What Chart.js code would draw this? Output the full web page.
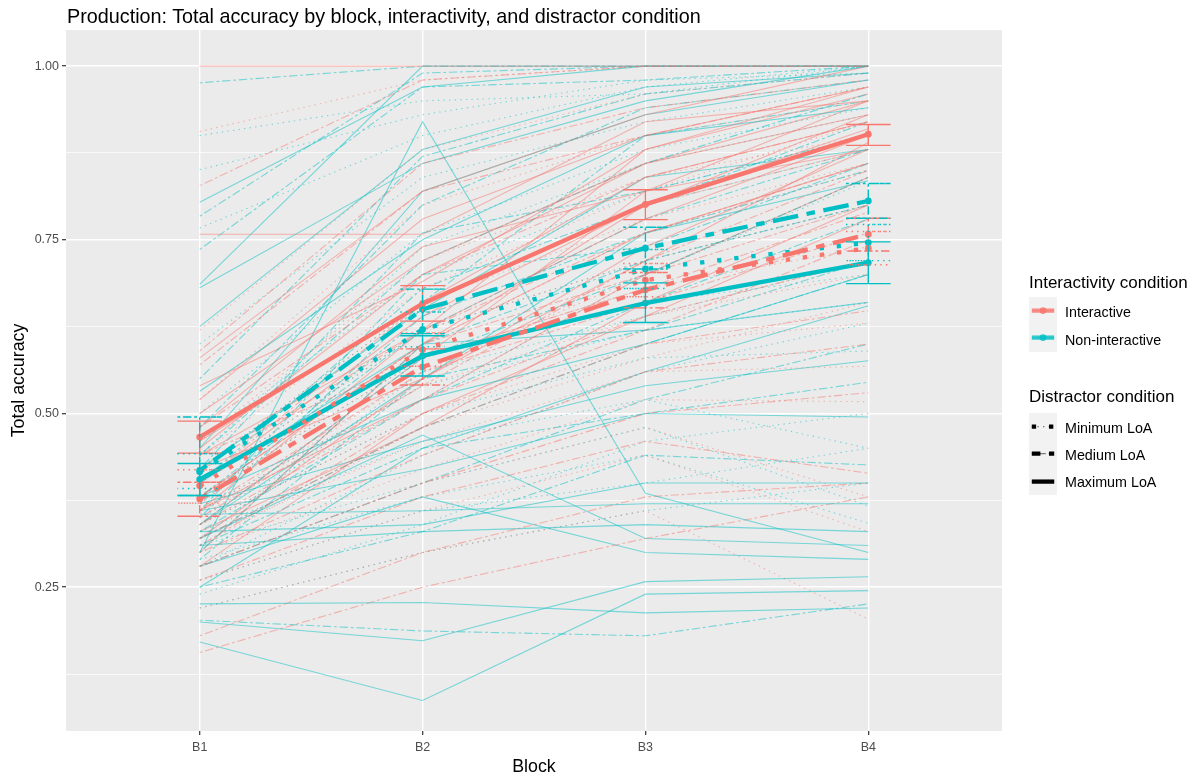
<!DOCTYPE html>
<html>
<head>
<meta charset="utf-8">
<script src="https://cdn.jsdelivr.net/npm/chart.js@4.4.1/dist/chart.umd.min.js"></script>
<style>
  body { margin: 0; background: #fff; }
  #wrap { position: relative; width: 1195px; height: 778px; font-family: "Liberation Sans", Arial, sans-serif; color: #000; }
  #plot { position: absolute; left: 0; top: 0; }
  .txt { position: absolute; white-space: nowrap; }
  .maintitle { left: 67px; top: 5px; font-size: 19.8px; line-height: 22px; }
  .ltitle { left: 1029px; font-size: 17px; line-height: 20px; }
  .llabel { left: 1065px; font-size: 14.3px; line-height: 16px; }
  .keys { position: absolute; left: 1029px; width: 28px; background: #F2F2F2; }
  .keys svg { display: block; }
</style>
</head>
<body>
<div id="wrap">
  <canvas id="plot" width="1195" height="778"></canvas>
  <div class="txt maintitle">Production: Total accuracy by block, interactivity, and distractor condition</div>

  <div class="txt ltitle" style="top:273px">Interactivity condition</div>
  <div class="keys" id="colourKeys" style="top:297px"></div>
  <div class="txt llabel" style="top:304px">Interactive</div>
  <div class="txt llabel" style="top:332px">Non-interactive</div>

  <div class="txt ltitle" style="top:387px">Distractor condition</div>
  <div class="keys" id="typeKeys" style="top:413px"></div>
  <div class="txt llabel" style="top:420px">Minimum LoA</div>
  <div class="txt llabel" style="top:447px">Medium LoA</div>
  <div class="txt llabel" style="top:474px">Maximum LoA</div>
</div>

<script>
const blocks = ['B1', 'B2', 'B3', 'B4'];
const yMajor = [0.25, 0.5, 0.75, 1.0];
const yMinor = [0.125, 0.375, 0.625, 0.875];

// one row per participant: total accuracy in B1..B4
const intMinLines = [
  [0.906, 0.98, 1.00, 1.00], [0.62, 0.88, 0.96, 0.99], [0.52, 0.80, 0.90, 0.95],
  [0.46, 0.72, 0.84, 0.90], [0.42, 0.66, 0.78, 0.86], [0.40, 0.62, 0.72, 0.80],
  [0.38, 0.58, 0.68, 0.74], [0.36, 0.54, 0.64, 0.70], [0.34, 0.50, 0.60, 0.63],
  [0.32, 0.46, 0.56, 0.568], [0.30, 0.42, 0.52, 0.517], [0.28, 0.40, 0.48, 0.38],
  [0.26, 0.36, 0.44, 0.33], [0.22, 0.30, 0.36, 0.204], [0.35, 0.56, 0.70, 0.84],
  [0.44, 0.68, 0.82, 0.92], [0.31, 0.48, 0.58, 0.66], [0.37, 0.60, 0.76, 0.85]
];
const intMedLines = [
  [0.828, 0.98, 1.00, 1.00], [0.59, 0.86, 0.94, 0.98], [0.57, 0.82, 0.90, 0.97],
  [0.48, 0.70, 0.84, 0.92], [0.42, 0.62, 0.76, 0.86], [0.38, 0.60, 0.70, 0.80],
  [0.36, 0.56, 0.66, 0.76], [0.34, 0.52, 0.64, 0.72], [0.32, 0.48, 0.60, 0.648],
  [0.30, 0.44, 0.56, 0.60], [0.28, 0.40, 0.50, 0.53], [0.26, 0.38, 0.46, 0.414],
  [0.18, 0.30, 0.38, 0.40], [0.156, 0.25, 0.32, 0.38], [0.35, 0.54, 0.72, 0.85],
  [0.40, 0.66, 0.80, 0.88], [0.31, 0.50, 0.62, 0.75], [0.44, 0.58, 0.68, 0.79]
];
const intMaxLines = [
  [1.00, 1.00, 1.00, 1.00], [0.758, 0.758, 0.92, 0.95], [0.54, 0.69, 0.88, 0.97],
  [0.58, 0.82, 0.93, 1.00], [0.50, 0.72, 0.86, 0.93], [0.46, 0.66, 0.84, 0.92],
  [0.44, 0.62, 0.78, 0.90], [0.42, 0.55, 0.74, 0.88], [0.40, 0.64, 0.80, 0.91],
  [0.38, 0.60, 0.76, 0.86], [0.36, 0.52, 0.70, 0.84], [0.34, 0.58, 0.82, 0.95],
  [0.33, 0.48, 0.66, 0.80], [0.32, 0.55, 0.72, 0.89], [0.30, 0.60, 0.80, 0.93],
  [0.28, 0.50, 0.64, 0.78], [0.45, 0.70, 0.86, 0.95], [0.52, 0.78, 0.90, 0.97],
  [0.48, 0.74, 0.82, 0.88], [0.36, 0.62, 0.88, 0.96]
];
const nonMinLines = [
  [0.90, 0.95, 0.96, 1.00], [0.851, 0.93, 0.98, 0.99], [0.767, 0.90, 0.97, 1.00],
  [0.60, 0.84, 0.92, 0.97], [0.50, 0.76, 0.88, 0.94], [0.46, 0.70, 0.82, 0.90],
  [0.42, 0.66, 0.80, 0.88], [0.40, 0.62, 0.72, 0.80], [0.38, 0.58, 0.66, 0.70],
  [0.36, 0.54, 0.62, 0.66], [0.34, 0.50, 0.58, 0.59], [0.33, 0.46, 0.52, 0.45],
  [0.31, 0.40, 0.48, 0.367], [0.29, 0.38, 0.44, 0.342], [0.26, 0.36, 0.40, 0.45],
  [0.24, 0.34, 0.46, 0.50], [0.35, 0.52, 0.70, 0.835], [0.44, 0.74, 0.86, 0.93],
  [0.28, 0.44, 0.56, 0.63], [0.32, 0.56, 0.64, 0.72], [0.22, 0.30, 0.36, 0.40]
];
const nonMedLines = [
  [0.976, 1.00, 1.00, 1.00], [0.784, 0.99, 1.00, 1.00], [0.736, 0.97, 0.98, 1.00],
  [0.55, 0.87, 0.96, 0.99], [0.48, 0.80, 0.94, 0.98], [0.44, 0.72, 0.86, 0.96],
  [0.40, 0.68, 0.80, 0.92], [0.38, 0.62, 0.78, 0.88], [0.36, 0.70, 0.74, 0.86],
  [0.34, 0.58, 0.70, 0.84], [0.33, 0.52, 0.66, 0.78], [0.32, 0.48, 0.60, 0.70],
  [0.30, 0.60, 0.72, 0.80], [0.2025, 0.187, 0.18, 0.226], [0.25, 0.33, 0.44, 0.426],
  [0.28, 0.40, 0.52, 0.60], [0.35, 0.66, 0.90, 0.95], [0.42, 0.76, 0.82, 0.90],
  [0.29, 0.55, 0.62, 0.72], [0.37, 0.64, 0.76, 0.85], [0.31, 0.45, 0.50, 0.545]
];
const nonMaxLines = [
  [0.804, 0.97, 1.00, 1.00], [0.686, 1.00, 1.00, 1.00], [0.681, 0.86, 0.95, 1.00],
  [0.625, 0.88, 0.97, 0.99], [0.532, 0.75, 0.90, 0.94], [0.30, 0.92, 0.385, 0.30],
  [0.171, 0.087, 0.24, 0.245], [0.226, 0.228, 0.213, 0.22], [0.20, 0.173, 0.258, 0.265],
  [0.32, 0.469, 0.32, 0.31], [0.355, 0.36, 0.37, 0.37], [0.33, 0.34, 0.40, 0.40],
  [0.38, 0.52, 0.60, 0.70], [0.42, 0.65, 0.84, 0.88], [0.36, 0.42, 0.50, 0.495],
  [0.28, 0.38, 0.30, 0.29], [0.45, 0.82, 0.93, 0.98], [0.34, 0.55, 0.76, 0.835],
  [0.40, 0.60, 0.62, 0.66], [0.37, 0.46, 0.54, 0.576], [0.31, 0.33, 0.34, 0.33],
  [0.25, 0.45, 0.56, 0.655]
];

// group means and error bar ends
const intMinMean = [0.396, 0.592, 0.692, 0.738];
const intMinLow  = [0.371, 0.568, 0.668, 0.714];
const intMinHigh = [0.419, 0.616, 0.716, 0.762];
const intMedMean = [0.377, 0.567, 0.678, 0.758];
const intMedLow  = [0.352, 0.541, 0.652, 0.734];
const intMedHigh = [0.401, 0.593, 0.703, 0.781];
const intMaxMean = [0.466, 0.658, 0.801, 0.902];
const intMaxLow  = [0.443, 0.633, 0.779, 0.886];
const intMaxHigh = [0.489, 0.684, 0.822, 0.916];
const nonMinMean = [0.416, 0.621, 0.708, 0.746];
const nonMinLow  = [0.392, 0.596, 0.680, 0.720];
const nonMinHigh = [0.442, 0.646, 0.736, 0.772];
const nonMedMean = [0.418, 0.650, 0.738, 0.806];
const nonMedLow  = [0.382, 0.615, 0.708, 0.781];
const nonMedHigh = [0.495, 0.679, 0.768, 0.831];
const nonMaxMean = [0.405, 0.583, 0.659, 0.717];
const nonMaxLow  = [0.382, 0.554, 0.631, 0.687];
const nonMaxHigh = [0.428, 0.612, 0.688, 0.747];

const red = '#F8766D', cyan = '#00BFC4';
const redThin = 'rgba(248,118,109,0.5)', cyanThin = 'rgba(0,191,196,0.5)';
const thinW = 1.1, thickW = 4.3, barW = 1.4;

// ggplot linetypes: dotted "13", twodash "2262"
function dashFor(type, w) {
  if (type == 'min') return [w, 3 * w];
  if (type == 'med') return [2 * w, 2 * w, 6 * w, 2 * w];
  return [];
}

const groups = [
  { lines: intMinLines, mean: intMinMean, lo: intMinLow, hi: intMinHigh, col: red, thin: redThin, type: 'min' },
  { lines: intMedLines, mean: intMedMean, lo: intMedLow, hi: intMedHigh, col: red, thin: redThin, type: 'med' },
  { lines: intMaxLines, mean: intMaxMean, lo: intMaxLow, hi: intMaxHigh, col: red, thin: redThin, type: 'max' },
  { lines: nonMinLines, mean: nonMinMean, lo: nonMinLow, hi: nonMinHigh, col: cyan, thin: cyanThin, type: 'min' },
  { lines: nonMedLines, mean: nonMedMean, lo: nonMedLow, hi: nonMedHigh, col: cyan, thin: cyanThin, type: 'med' },
  { lines: nonMaxLines, mean: nonMaxMean, lo: nonMaxLow, hi: nonMaxHigh, col: cyan, thin: cyanThin, type: 'max' }
];

const toPoints = (row) => row.map((v, i) => ({ x: i + 1, y: v }));

let datasets = [];
// participant lines first, so red and cyan interleave like the original
for (let k = 0; k < 22; k++) {
  groups.forEach(g => {
    if (k < g.lines.length) {
      datasets.push({
        data: toPoints(g.lines[k]),
        borderColor: g.thin,
        borderWidth: thinW,
        borderDash: dashFor(g.type, 1.4),
        pointRadius: 0,
        order: 2
      });
    }
  });
}
groups.forEach(g => {
  datasets.push({
    data: toPoints(g.mean),
    borderColor: g.col,
    backgroundColor: g.col,
    borderWidth: thickW,
    borderDash: dashFor(g.type, thickW),
    pointRadius: 3.4,
    pointBorderWidth: 0,
    pointBackgroundColor: g.col,
    order: 0
  });
});

const panelBackground = {
  id: 'panelBackground',
  beforeDraw(chart) {
    const { ctx, chartArea: a } = chart;
    ctx.save();
    ctx.fillStyle = '#EBEBEB';
    ctx.fillRect(a.left, a.top, a.right - a.left, a.bottom - a.top);
    ctx.restore();
  }
};

const errorBars = {
  id: 'errorBars',
  afterDatasetsDraw(chart) {
    const { ctx, scales: { x, y } } = chart;
    const half = x.getPixelForValue(1.1) - x.getPixelForValue(1);
    groups.forEach(g => {
      ctx.save();
      ctx.strokeStyle = g.col;
      ctx.lineWidth = barW;
      ctx.setLineDash(dashFor(g.type, barW));
      for (let i = 0; i < g.lo.length; i++) {
        const px = x.getPixelForValue(i + 1);
        const pl = y.getPixelForValue(g.lo[i]);
        const ph = y.getPixelForValue(g.hi[i]);
        ctx.beginPath();
        ctx.moveTo(px - half, ph);
        ctx.lineTo(px + half, ph);
        ctx.lineTo(px, ph);
        ctx.lineTo(px, pl);
        ctx.lineTo(px - half, pl);
        ctx.lineTo(px + half, pl);
        ctx.stroke();
      }
      ctx.restore();
    });
  }
};

Chart.defaults.font.family = '"Liberation Sans", Arial, sans-serif';

new Chart(document.getElementById('plot'), {
  type: 'line',
  data: { datasets },
  plugins: [panelBackground, errorBars],
  options: {
    responsive: false,
    animation: false,
    devicePixelRatio: 1,
    layout: { padding: { left: 0, right: 193, top: 30, bottom: 0 } },
    plugins: { legend: { display: false }, tooltip: { enabled: false } },
    elements: { line: { tension: 0 } },
    scales: {
      x: {
        type: 'linear',
        min: 0.4,
        max: 4.6,
        afterBuildTicks: (s) => { s.ticks = blocks.map((b, i) => ({ value: i + 1 })); },
        afterFit: (s) => { s.height = 47; },
        ticks: {
          callback: (v) => blocks[v - 1],
          color: '#4D4D4D',
          font: { size: 12.5 },
          padding: 5,
          autoSkip: false,
          maxRotation: 0
        },
        grid: { color: '#FFFFFF', lineWidth: 1.4, tickColor: '#333333', tickLength: 4, tickWidth: 1.2 },
        border: { display: false },
        title: { display: true, text: 'Block', color: '#000', font: { size: 17.8 }, padding: { top: 0, bottom: 0 } }
      },
      y: {
        min: 0.043,
        max: 1.052,
        afterBuildTicks: (s) => {
          s.ticks = yMinor.concat(yMajor).sort((a, b) => a - b).map(v => ({ value: v }));
        },
        afterFit: (s) => { s.width = 66; },
        ticks: {
          callback: (v) => yMajor.includes(v) ? v.toFixed(2) : '',
          color: '#4D4D4D',
          font: { size: 12.5 },
          padding: 3
        },
        grid: {
          color: '#FFFFFF',
          lineWidth: (c) => yMajor.includes(c.tick.value) ? 1.4 : 0.7,
          tickColor: (c) => yMajor.includes(c.tick.value) ? '#333333' : 'rgba(0,0,0,0)',
          tickLength: 4,
          tickWidth: 1.2
        },
        border: { display: false },
        title: { display: true, text: 'Total accuracy', color: '#000', font: { size: 17.8 }, padding: { top: 8, bottom: 0 } }
      }
    }
  }
});

// legend keys, drawn like ggplot keys: thick mean line + thin participant line
function keySvg(stroke, type, withPoint) {
  const x1 = 2.8, x2 = 25.2, cy = 13.6;
  let s = '<svg width="28" height="27.3" xmlns="http://www.w3.org/2000/svg">';
  s += `<line x1="${x1}" y1="${cy}" x2="${x2}" y2="${cy}" stroke="${stroke}" stroke-width="${thickW}" stroke-dasharray="${dashFor(type, thickW).join(' ') || 'none'}"/>`;
  s += `<line x1="${x1}" y1="${cy}" x2="${x2}" y2="${cy}" stroke="${stroke}" stroke-opacity="0.5" stroke-width="${thinW}" stroke-dasharray="${dashFor(type, 1.4).join(' ') || 'none'}"/>`;
  if (withPoint) s += `<circle cx="14" cy="${cy}" r="3.4" fill="${stroke}"/>`;
  return s + '</svg>';
}
document.getElementById('colourKeys').innerHTML =
  keySvg('rgba(248,118,109,0.8)', 'max', true) + keySvg('rgba(0,191,196,0.8)', 'max', true);
document.getElementById('typeKeys').innerHTML =
  keySvg('#000', 'min', false) + keySvg('#000', 'med', false) + keySvg('#000', 'max', false);
</script>
</body>
</html>
